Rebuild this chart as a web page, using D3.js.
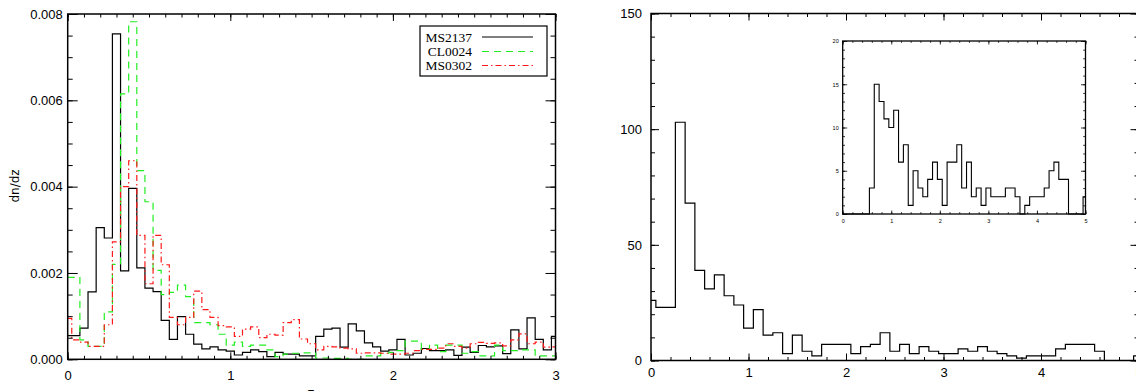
<!DOCTYPE html>
<html>
<head>
<meta charset="utf-8">
<script src="https://cdn.jsdelivr.net/npm/d3@7"></script>
<style>
  html, body { margin: 0; padding: 0; background: #fff; }
  svg { display: block; }
</style>
</head>
<body>
<svg id="chart" width="1136" height="391"></svg>
<script>
// ---------------- DATA ----------------
// Left panel: dn/dz histograms, bins centred on z = 0, 0.05, ..., 3.0
const leftBinWidth = 0.05;
const leftBinCount = 61;
const seriesNames = ["MS2137", "CL0024", "MS0302"];
const ms2137 = [0.00055,0.00055,0.00072,0.00156,0.00305,0.00281,0.00754,0.00205,0.00396,0.00212,
  0.00165,0.00157,0.00090,0.00046,0.00099,0.00058,0.00035,0.00024,0.00029,0.00022,
  0.00019,0.00010,0.00016,0.00022,0.00018,0.00006,0.00016,0.00012,0.00012,0.00008,
  0.00008,0.00053,0.00070,0.00072,0.00028,0.00082,0.00066,0.00038,0.00029,0.00019,
  0.00022,0.00046,0.00010,0.00014,0.00025,0.00020,0.00020,0.00022,0.00009,0.00028,
  0.00016,0.00032,0.00029,0.00031,0.00013,0.00068,0.00024,0.00096,0.00046,0.00022,0.00053];
const cl0024 = [0.00190,0.00190,0.00045,0.00030,0.00030,0.00110,0.00220,0.00615,0.00782,0.00437,
  0.00365,0.00206,0.00150,0.00155,0.00172,0.00145,0.00085,0.00085,0.00080,0.00058,
  0.00033,0.00040,0.00030,0.00033,0.00033,0.00022,0.00006,0.00012,0.00014,0.00015,
  0.00015,0.00003,0.00003,0.00002,0.00002,0.00000,0.00000,0.00008,0.00008,0.00014,
  0.00016,0.00020,0.00042,0.00042,0.00023,0.00033,0.00018,0.00033,0.00033,0.00014,
  0.00018,0.00008,0.00008,0.00033,0.00020,0.00020,0.00022,0.00022,0.00008,0.00008,0.00008];
const ms0302 = [0.00095,0.00045,0.00040,0.00030,0.00030,0.00080,0.00272,0.00400,0.00460,0.00287,
  0.00175,0.00287,0.00219,0.00097,0.00080,0.00097,0.00158,0.00115,0.00097,0.00078,
  0.00075,0.00053,0.00070,0.00075,0.00050,0.00058,0.00056,0.00085,0.00092,0.00047,
  0.00036,0.00022,0.00030,0.00029,0.00026,0.00024,0.00014,0.00015,0.00015,0.00014,
  0.00012,0.00012,0.00014,0.00020,0.00023,0.00023,0.00026,0.00036,0.00030,0.00026,
  0.00036,0.00039,0.00037,0.00038,0.00031,0.00045,0.00059,0.00036,0.00040,0.00028,0.00029];
const leftXTicks = [0, 1, 2, 3];
const leftYTicks = [0, 0.002, 0.004, 0.006, 0.008];

// Right panel: counts, bins centred on z = 0, 0.1, ..., 5.0
const rightBinWidth = 0.1;
const rightBinCount = 51;
const rightCounts = [26,23,23,103,68,39,31,37,28,24,
  14,22,11,12,3,11,4,2,7,7,
  7,3,6,7,12,4,7,3,6,4,
  3,3,5,4,6,4,3,2,1,2,
  2,2,5,7,7,7,4,0,0,0,2];
const rightXTicks = [0, 1, 2, 3, 4, 5];
const rightYTicks = [0, 50, 100, 150];

// Inset: counts, bins centred on z = 0, 0.1, ..., 5.0
const insetCounts = [0,0,0,0,0,0,3,15,13,11,
  10,12,6,8,1,5,3,2,4,6,
  4,1,6,6,8,3,6,2,3,1,
  3,2,2,2,3,3,2,0,1,2,
  2,2,3,5,6,4,4,0,0,0,2];
const insetXTicks = [0, 1, 2, 3, 4, 5];
const insetYTicks = [0, 5, 10, 15, 20];

// ---------------- DRAWING ----------------
const svg = d3.select("#chart");
svg.append("rect").attr("width", 1136).attr("height", 391).attr("fill", "#fff");

const leftZ = d3.range(leftBinCount).map(i => +(i * leftBinWidth).toFixed(3));
const rightZ = d3.range(rightBinCount).map(i => +(i * rightBinWidth).toFixed(3));

const xL = d3.scaleLinear().domain([0, 3]).range([67.7, 555.5]);
const yL = d3.scaleLinear().domain([0, 0.008]).range([359.3, 14]);
const xR = d3.scaleLinear().domain([0, 5]).range([651, 1138.5]);
const yR = d3.scaleLinear().domain([0, 150]).range([360.5, 13.5]);
const xI = d3.scaleLinear().domain([0, 5]).range([842.7, 1085.5]);
const yI = d3.scaleLinear().domain([0, 20]).range([214, 41]);

function minorVals(domain, step) {
  const n = Math.round((domain[1] - domain[0]) / step);
  return d3.range(n + 1).map(i => domain[0] + i * step);
}

function drawAxes(g, x, y, o) {
  const [x0, x1] = x.range();
  const [y0, y1] = y.range();
  const style = sel => {
    sel.select(".domain").remove();
    sel.selectAll("line").attr("stroke", "#000").attr("stroke-width", o.tickWidth);
    sel.attr("font-family", "'Liberation Sans', Arial, sans-serif")
       .attr("font-size", o.fontSize);
    sel.selectAll("text").attr("fill", "#000");
  };
  const xm = minorVals(x.domain(), o.xMinorStep);
  const ym = minorVals(y.domain(), o.yMinorStep);
  // bottom
  g.append("g").attr("transform", `translate(0,${y0})`)
    .call(d3.axisBottom(x).tickValues(xm).tickSize(-o.xMinLen).tickFormat("")).call(style);
  g.append("g").attr("transform", `translate(0,${y0})`)
    .call(d3.axisBottom(x).tickValues(o.xTicks).tickSize(-o.xMajLen).tickPadding(o.xPad).tickFormat(o.xFmt)).call(style);
  // top
  g.append("g").attr("transform", `translate(0,${y1})`)
    .call(d3.axisTop(x).tickValues(xm).tickSize(-o.xMinLen).tickFormat("")).call(style);
  g.append("g").attr("transform", `translate(0,${y1})`)
    .call(d3.axisTop(x).tickValues(o.xTicks).tickSize(-o.xMajLen).tickFormat("")).call(style);
  // left
  g.append("g").attr("transform", `translate(${x0},0)`)
    .call(d3.axisLeft(y).tickValues(ym).tickSize(-o.yMinLen).tickFormat("")).call(style);
  g.append("g").attr("transform", `translate(${x0},0)`)
    .call(d3.axisLeft(y).tickValues(o.yTicks).tickSize(-o.yMajLen).tickPadding(o.yPad).tickFormat(o.yFmt)).call(style);
  // right
  g.append("g").attr("transform", `translate(${x1},0)`)
    .call(d3.axisRight(y).tickValues(ym).tickSize(-o.yMinLen).tickFormat("")).call(style);
  g.append("g").attr("transform", `translate(${x1},0)`)
    .call(d3.axisRight(y).tickValues(o.yTicks).tickSize(-o.yMajLen).tickFormat("")).call(style);
  // frame
  g.append("rect")
    .attr("x", x0).attr("y", y1).attr("width", x1 - x0).attr("height", y0 - y1)
    .attr("fill", "none").attr("stroke", "#000").attr("stroke-width", o.frameWidth);
}

function histPath(g, x, y, xs, vals, stroke, dash, width) {
  const line = d3.line().curve(d3.curveStep).x((d, i) => x(xs[i])).y(d => y(d));
  g.append("path").datum(vals)
    .attr("d", line)
    .attr("fill", "none")
    .attr("stroke", stroke)
    .attr("stroke-width", width)
    .attr("stroke-dasharray", dash);
}

// ---- Left panel ----
const gL = svg.append("g");
const leftStyles = [
  { data: ms2137, color: "#000000", dash: null },
  { data: cl0024, color: "#22ee22", dash: "7,5" },
  { data: ms0302, color: "#ff1a1a", dash: "6,3,1.5,3" }
];
leftStyles.forEach(s => histPath(gL, xL, yL, leftZ, s.data, s.color, s.dash, 1.2));

drawAxes(gL, xL, yL, {
  xTicks: leftXTicks, yTicks: leftYTicks,
  xMinorStep: 0.1, yMinorStep: 0.0005,
  xMajLen: 7, xMinLen: 3.5, yMajLen: 10, yMinLen: 5,
  xPad: 11, yPad: 5,
  xFmt: d3.format("d"), yFmt: d3.format(".3f"),
  fontSize: 13, tickWidth: 1, frameWidth: 1.5
});

// axis titles
gL.append("text")
  .attr("transform", "translate(19,186) rotate(-90)")
  .attr("text-anchor", "middle")
  .attr("font-family", "'DejaVu Sans', sans-serif")
  .attr("font-size", 12)
  .text("dn/dz");
gL.append("text")
  .attr("x", 311).attr("y", 397)
  .attr("text-anchor", "middle")
  .attr("font-family", "'DejaVu Sans', sans-serif")
  .attr("font-size", 13)
  .text("z");

// legend
const leg = gL.append("g");
leg.append("rect").attr("x", 420).attr("y", 26).attr("width", 127).attr("height", 50)
  .attr("fill", "#fff").attr("stroke", "#000").attr("stroke-width", 1.2);
const legRowsY = [37, 51.5, 65.5];
leftStyles.forEach((s, i) => {
  leg.append("text")
    .attr("x", 472).attr("y", legRowsY[i] + 4.5)
    .attr("text-anchor", "end")
    .attr("font-family", "'Liberation Serif', 'Times New Roman', serif")
    .attr("font-size", 13.5)
    .text(seriesNames[i]);
  leg.append("line")
    .attr("x1", 482).attr("x2", 533).attr("y1", legRowsY[i]).attr("y2", legRowsY[i])
    .attr("stroke", s.color).attr("stroke-width", 1.2).attr("stroke-dasharray", s.dash);
});

// ---- Right panel ----
const gR = svg.append("g");
histPath(gR, xR, yR, rightZ, rightCounts, "#000", null, 1.2);
drawAxes(gR, xR, yR, {
  xTicks: rightXTicks, yTicks: rightYTicks,
  xMinorStep: 0.2, yMinorStep: 10,
  xMajLen: 7, xMinLen: 3.5, yMajLen: 8, yMinLen: 4,
  xPad: 7, yPad: 9,
  xFmt: d3.format("d"), yFmt: d3.format("d"),
  fontSize: 13, tickWidth: 1, frameWidth: 1.5
});

// ---- Inset ----
const gI = svg.append("g");
gI.append("rect").attr("x", 842.7).attr("y", 41).attr("width", 242.8).attr("height", 173).attr("fill", "#fff");
histPath(gI, xI, yI, rightZ, insetCounts, "#000", null, 1.1);
drawAxes(gI, xI, yI, {
  xTicks: insetXTicks, yTicks: insetYTicks,
  xMinorStep: 0.2, yMinorStep: 1,
  xMajLen: 3.5, xMinLen: 1.8, yMajLen: 4.5, yMinLen: 2.3,
  xPad: 5, yPad: 4,
  xFmt: d3.format("d"), yFmt: d3.format("d"),
  fontSize: 5.5, tickWidth: 0.8, frameWidth: 1.3
});
</script>
</body>
</html>
